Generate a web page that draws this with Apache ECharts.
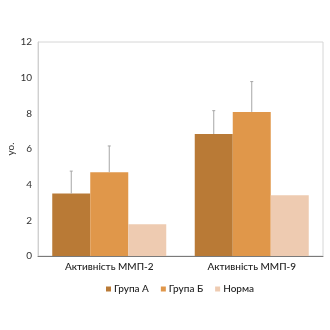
<!DOCTYPE html>
<html>
<head>
<meta charset="utf-8">
<script src="https://cdn.jsdelivr.net/npm/echarts@6/dist/echarts.min.js"></script>
<style>
  html, body { margin: 0; padding: 0; background: #fff; }
  #chart { width: 330px; height: 330px; }
</style>
</head>
<body>
<div id="chart"></div>
<script>
// Categories and measured activity (mean values with upper error)
var categories = ['Активність ММП-2', 'Активність ММП-9'];
var seriesNames = ['Група А', 'Група Б', 'Норма'];
var groupA = [3.5, 6.84];
var groupB = [4.7, 8.08];
var norma = [1.78, 3.41];
var errA = [1.26, 1.31];
var errB = [1.47, 1.70];
var yTicks = { min: 0, max: 12, interval: 2 };

var colors = ['#b97a36', '#e0974a', '#eecbb1'];
var FONT = 'Lato, "Open Sans", sans-serif';

var chart = echarts.init(document.getElementById('chart'));

// Upper error whiskers, placed over the bar of series `idx` (out of 3 side-by-side bars)
function errorSeries(values, errors, idx) {
  var data = values.map(function (v, i) { return [i, v, v + errors[i]]; });
  return {
    type: 'custom',
    silent: true,
    z: 5,
    data: data,
    renderItem: function (params, api) {
      var c = api.value(0);
      var lo = api.coord([c, api.value(1)]);
      var hi = api.coord([c, api.value(2)]);
      var band = api.size([1, 0])[0];
      var barW = band * 0.8 / 3;
      var x = lo[0] + (idx - 1) * barW;
      var style = { stroke: '#a6a6a6', lineWidth: 1 };
      return {
        type: 'group',
        children: [
          { type: 'line', shape: { x1: x, y1: lo[1], x2: x, y2: hi[1] }, style: style },
          { type: 'line', shape: { x1: x - 1.5, y1: hi[1], x2: x + 1.5, y2: hi[1] }, style: style }
        ]
      };
    },
    encode: { x: 0, y: [1, 2] }
  };
}

chart.setOption({
  animation: false,
  textStyle: { fontFamily: FONT },
  grid: {
    left: 38, right: 7, top: 42, bottom: 74,
    outerBoundsMode: 'none',
    containLabel: false,
    show: true, borderColor: '#d6d6d6', borderWidth: 1
  },
  legend: {
    data: seriesNames,
    bottom: 31,
    left: 101,
    itemWidth: 5, itemHeight: 5, itemGap: 12,
    icon: 'rect',
    textStyle: { fontSize: 10, color: '#222', fontFamily: FONT, fontWeight: 500, padding: [0, 0, 0, -2] }
  },
  xAxis: {
    type: 'category',
    data: categories,
    axisLine: { lineStyle: { color: '#7a7a7a', width: 1 } },
    axisTick: { show: false },
    axisLabel: { fontSize: 10, color: '#222', margin: 6, fontFamily: FONT, fontWeight: 500 }
  },
  yAxis: {
    type: 'value',
    min: yTicks.min, max: yTicks.max, interval: yTicks.interval,
    name: 'уо.',
    nameLocation: 'middle',
    nameGap: 22,
    nameMoveOverlap: false,
    nameTextStyle: { fontSize: 10, color: '#333', fontFamily: FONT },
    axisLine: { show: true, lineStyle: { color: '#d0d0d0' } },
    axisTick: { show: false },
    splitLine: { show: false },
    axisLabel: { fontSize: 10, color: '#333', margin: 6, fontFamily: FONT }
  },
  series: [
    { name: seriesNames[0], type: 'bar', data: groupA, barGap: '0%', barCategoryGap: '20%',
      itemStyle: { color: colors[0] } },
    { name: seriesNames[1], type: 'bar', data: groupB, barGap: '0%', barCategoryGap: '20%',
      itemStyle: { color: colors[1] } },
    { name: seriesNames[2], type: 'bar', data: norma, barGap: '0%', barCategoryGap: '20%',
      itemStyle: { color: colors[2] } },
    errorSeries(groupA, errA, 0),
    errorSeries(groupB, errB, 1)
  ]
});
</script>
</body>
</html>
